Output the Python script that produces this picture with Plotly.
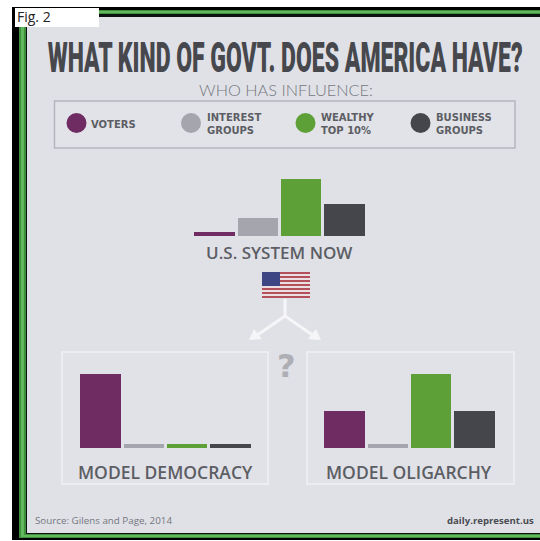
import plotly.graph_objects as go

W, H = 540, 541

GROUPS = ["Voters", "Interest groups", "Wealthy top 10%", "Business groups"]
COLORS = ["#6f2c63", "#a5a5ad", "#5da038", "#45464b"]
US_NOW = [5, 24, 77, 43]
DEMOCRACY = [100, 5, 5, 5]
OLIGARCHY = [50, 5, 100, 50]

LEGEND_LINES = ["VOTERS", "INTEREST<br>GROUPS", "WEALTHY<br>TOP 10%", "BUSINESS<br>GROUPS"]

TITLE = "WHAT KIND OF GOVT. DOES AMERICA HAVE?"
SUBTITLE = "WHO HAS INFLUENCE:"
US_LABEL = "U.S. SYSTEM NOW"
DEM_LABEL = "MODEL DEMOCRACY"
OLI_LABEL = "MODEL OLIGARCHY"
SOURCE = "Source: Gilens and Page, 2014"
SITE = "daily.represent.us"
FIG_TAG = "Fig. 2"

PANEL = "#e0e1e7"
INK = "#5c5e64"


def px(x):
    return x / W


def py(y):
    return 1 - y / H


def rect(x0, y0, x1, y1, fill, line=None, width=0, layer="below"):
    return dict(type="rect", xref="paper", yref="paper", layer=layer,
                x0=px(x0), x1=px(x1), y0=py(y0), y1=py(y1),
                fillcolor=fill, line=dict(color=line or fill, width=width))


def label(x, y, text, size, color=INK, family="Open Sans", anchor="center", weight="normal", **kw):
    return dict(xref="paper", yref="paper", x=px(x), y=py(y), text=text, showarrow=False,
                xanchor=anchor, yanchor="middle",
                font=dict(family=family, size=size, color=color, weight=weight), **kw)


fig = go.Figure()

# Three bar panels, all on the same 0-100 influence scale
panels = [
    ("", US_NOW, (193, 366), (162, 236)),
    ("2", DEMOCRACY, (79, 252), (374, 448)),
    ("3", OLIGARCHY, (323, 496), (374, 448)),
]
layout_axes = {}
for suffix, values, (x0, x1), (ytop, ybase) in panels:
    fig.add_trace(go.Bar(x=GROUPS, y=values, marker=dict(color=COLORS, line=dict(width=0)),
                         width=0.94, xaxis="x" + suffix, yaxis="y" + suffix, showlegend=False))
    layout_axes["xaxis" + suffix] = dict(domain=[px(x0), px(x1)], range=[-0.5, 3.5], visible=False,
                                         anchor="y" + suffix, categoryorder="array", categoryarray=GROUPS)
    layout_axes["yaxis" + suffix] = dict(domain=[py(ybase), py(ytop)], range=[0, 100], visible=False,
                                         anchor="x" + suffix)

shapes = [
    # Black mount, green band with a brighter core, black keyline and the light panel
    rect(12, 7, 541, 540, "#000000"),
    rect(19, 10, 541, 538, "#3f8f3d"),
    rect(21, 11, 541, 537, "#62b85c"),
    rect(24, 13, 541, 535, "#3f8f3d"),
    rect(26, 14, 541, 534, "#0c1210"),
    rect(27, 17, 541, 533, PANEL),
    # Legend box and model frames
    rect(54.5, 101, 515, 148, "#e2e3e8", line="#b5b6bd", width=1.5),
    rect(62, 352, 268, 484, "#e1e2e8", line="#f0f1f4", width=1.5),
    rect(307, 352, 514, 484, "#e1e2e8", line="#f0f1f4", width=1.5),
    # Tag in the corner
    rect(15, 8, 99, 27, "#ffffff", layer="above"),
]

# Legend dots
for cx, color in zip((76.5, 191, 305.5, 420.5), COLORS):
    shapes.append(dict(type="circle", xref="paper", yref="paper", layer="below",
                       x0=px(cx - 10), x1=px(cx + 10), y0=py(133), y1=py(113),
                       fillcolor=color, line=dict(width=0)))

# Flag: stripes, then the canton
FLAG_X0, FLAG_X1, FLAG_Y0, FLAG_Y1 = 262, 310, 272, 298
stripe = (FLAG_Y1 - FLAG_Y0) / 13
for i in range(13):
    shapes.append(rect(FLAG_X0, FLAG_Y0 + i * stripe, FLAG_X1, FLAG_Y0 + (i + 1) * stripe,
                       "#b4505c" if i % 2 == 0 else "#ecdfe2", layer="above"))
shapes.append(rect(FLAG_X0, FLAG_Y0, 280, FLAG_Y0 + 7 * stripe, "#3f4684", layer="above"))


# Forking arrow below the flag
def white_line(x0, y0, x1, y1):
    return dict(type="line", xref="paper", yref="paper", x0=px(x0), x1=px(x1), y0=py(y0), y1=py(y1),
                line=dict(color="#f6f6f8", width=3))


def white_head(points):
    path = "M " + " L ".join(f"{px(x):.4f},{py(y):.4f}" for x, y in points) + " Z"
    return dict(type="path", xref="paper", yref="paper", path=path, fillcolor="#f6f6f8", line=dict(width=0))


shapes += [
    white_line(285, 299, 285, 316),
    white_line(285, 316, 256, 336),
    white_line(285, 316, 314, 336),
    white_head([(249, 340), (262, 339), (254, 329)]),
    white_head([(321, 340), (308, 339), (316, 329)]),
]

annotations = [
    label(285, 57, TITLE, 42, color="#46484d", family="Roboto", weight=900),
    label(286, 90, SUBTITLE, 15, color="#76787e", family="Lato", weight=300),
    label(89, 124, f"<b>{LEGEND_LINES[0]}</b>", 10, family="DejaVu Sans", anchor="left"),
    label(205, 124, f"<b>{LEGEND_LINES[1]}</b>", 10, family="DejaVu Sans", anchor="left", align="left"),
    label(319, 124, f"<b>{LEGEND_LINES[2]}</b>", 10, family="DejaVu Sans", anchor="left", align="left"),
    label(434, 124, f"<b>{LEGEND_LINES[3]}</b>", 10, family="DejaVu Sans", anchor="left", align="left"),
    label(279, 253, US_LABEL, 17, family="Open Sans", weight=600),
    label(165, 472, DEM_LABEL, 17.5, family="Open Sans", weight=600),
    label(409, 472, OLI_LABEL, 17.5, family="Open Sans", weight=600),
    label(286, 366, "<b>?</b>", 32, color="#aeafb5", family="DejaVu Sans"),
    label(33, 520, SOURCE, 9.8, color="#74767c", family="Open Sans", anchor="left"),
    label(536, 520, f"<b>{SITE}</b>", 9.6, color="#4a4c52", family="Open Sans", anchor="right"),
    label(15, 17, FIG_TAG, 14, color="#222222", family="Open Sans", anchor="left"),
]

fig.update_layout(
    width=W, height=H, margin=dict(l=0, r=0, t=0, b=0),
    paper_bgcolor="#ffffff", plot_bgcolor="rgba(0,0,0,0)",
    bargap=0, showlegend=False, shapes=shapes, annotations=annotations, **layout_axes,
)

# The poster's headline is set in a tightly condensed face, so the glyphs are squeezed to its measure
FIT_TEXT = """
var widths = {"%s": 475, "%s": 174};
document.querySelectorAll('text.annotation-text').forEach(function (t) {
  var w = widths[t.textContent];
  if (!w) return;
  var k = w / t.getBBox().width;
  t.style.transformBox = 'fill-box';
  t.style.transformOrigin = 'center';
  t.style.transform = 'scaleX(' + k + ')';
});
""" % (TITLE, SUBTITLE)

fig.write_html("out.html", config=dict(displayModeBar=False), post_script=FIT_TEXT)
